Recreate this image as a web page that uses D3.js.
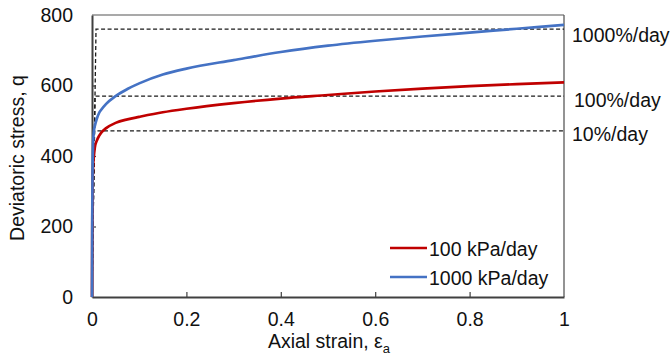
<!DOCTYPE html>
<html><head><meta charset="utf-8">
<script src="https://cdn.jsdelivr.net/npm/d3@7"></script>
<style>body{margin:0;background:#fff}svg{display:block;font-family:"Liberation Sans",Arial,sans-serif}</style>
</head><body><svg id="c" width="672" height="359"></svg>
<script>
const strain = [0,0.0005,0.001,0.002,0.004,0.006,0.01,0.015,0.02,0.03,0.05,0.075,0.1,0.15,0.2,0.3,0.4,0.5,0.6,0.7,0.8,0.9,1.0];
const q100 = [0,190,290,360,400,424,443,457,467,479,494,504,511,524,534,550,563,573,583,591,598,604,609];
const q1000 = [0,220,330,420,470,485,505,522,532,548,570,590,606,631,648,672,695,713,727,739,750,761,772];
const seriesNames = ["100 kPa/day","1000 kPa/day"];
const rateLabels = ["1000%/day","100%/day","10%/day"];
const rateYield = [760,570,471];
const rateYieldStrain = [0.0085,0.0064,0.0053];
const xTicks = [0,0.2,0.4,0.6,0.8,1];
const yTicks = [0,200,400,600,800];

const svg = d3.select("#c");
const L=92,R=564,T=15,B=297;
const FS=19.5;
const x = d3.scaleLinear().domain([0,1]).range([L,R]);
const y = d3.scaleLinear().domain([0,800]).range([B,T]);

// frame top/right
svg.append("line").attr("x1",L).attr("x2",R).attr("y1",T).attr("y2",T).attr("stroke","#8c8c8c").attr("stroke-width",1.3);
svg.append("line").attr("x1",R).attr("x2",R).attr("y1",T).attr("y2",B).attr("stroke","#595959").attr("stroke-width",1.3);

// dashed rate lines
rateYield.forEach((qy,i)=>{
  const pts=[[0,0],[rateYieldStrain[i],qy],[1,qy]];
  svg.append("path").attr("d",d3.line().x(d=>x(d[0])).y(d=>y(d[1]))(pts))
    .attr("fill","none").attr("stroke","#1a1a1a").attr("stroke-width",1.3).attr("stroke-dasharray","4,2.5");
});
const labelDx=[8,10,8];
const labelDy=[6,4,3.5];
rateLabels.forEach((t,i)=>{
  svg.append("text").attr("x",R+labelDx[i]).attr("y",y(rateYield[i])+labelDy[i])
    .attr("dy","0.35em").attr("font-size",FS).attr("fill","#111").text(t);
});

// axes
const xa = svg.append("g").attr("transform",`translate(0,${B})`)
  .call(d3.axisBottom(x).tickValues(xTicks).tickFormat(d3.format("")).tickSizeInner(-5).tickSizeOuter(0).tickPadding(18));
const ya = svg.append("g").attr("transform",`translate(${L},0)`)
  .call(d3.axisLeft(y).tickValues(yTicks).tickSizeInner(-4).tickSizeOuter(0).tickPadding(19));
[xa,ya].forEach(a=>{
  a.select(".domain").attr("stroke","#404040").attr("stroke-width",2);
  a.selectAll(".tick line").attr("stroke","#404040").attr("stroke-width",1.2);
  a.selectAll(".tick text").attr("font-size",FS).attr("fill","#111").attr("font-family","Liberation Sans, Arial, sans-serif");
});
xa.selectAll(".tick text").attr("dy","0.55em");
xa.selectAll(".tick").filter(d=>d===0||d===1).select("line").remove();
ya.selectAll(".tick").filter(d=>d===0||d===800).select("line").remove();

// curves
const line = d3.line().curve(d3.curveMonotoneX).x((d,i)=>x(strain[i])).y(d=>y(d));
const colors=["#c00000","#4472c4"];
[q100,q1000].forEach((s,i)=>{
  svg.append("path").attr("d",line(s)).attr("fill","none").attr("stroke",colors[i]).attr("stroke-width",2.7).attr("stroke-linejoin","round");
});

// legend
seriesNames.forEach((n,i)=>{
  const ly=248+i*29;
  svg.append("line").attr("x1",390).attr("x2",427).attr("y1",ly).attr("y2",ly).attr("stroke",colors[i]).attr("stroke-width",2.7);
  svg.append("text").attr("x",429).attr("y",ly+1).attr("dy","0.35em").attr("font-size",FS).attr("fill","#111").text(n);
});

// axis titles
const xt = svg.append("text").attr("x",329).attr("y",348).attr("text-anchor","middle").attr("font-size",FS).attr("fill","#111");
xt.append("tspan").text("Axial strain, ε");
xt.append("tspan").attr("font-size",13).attr("dy",5).text("a");
svg.append("text").attr("transform","translate(24,158) rotate(-90)").attr("text-anchor","middle").attr("font-size",FS).attr("fill","#111").text("Deviatoric stress, q");
</script></body></html>
